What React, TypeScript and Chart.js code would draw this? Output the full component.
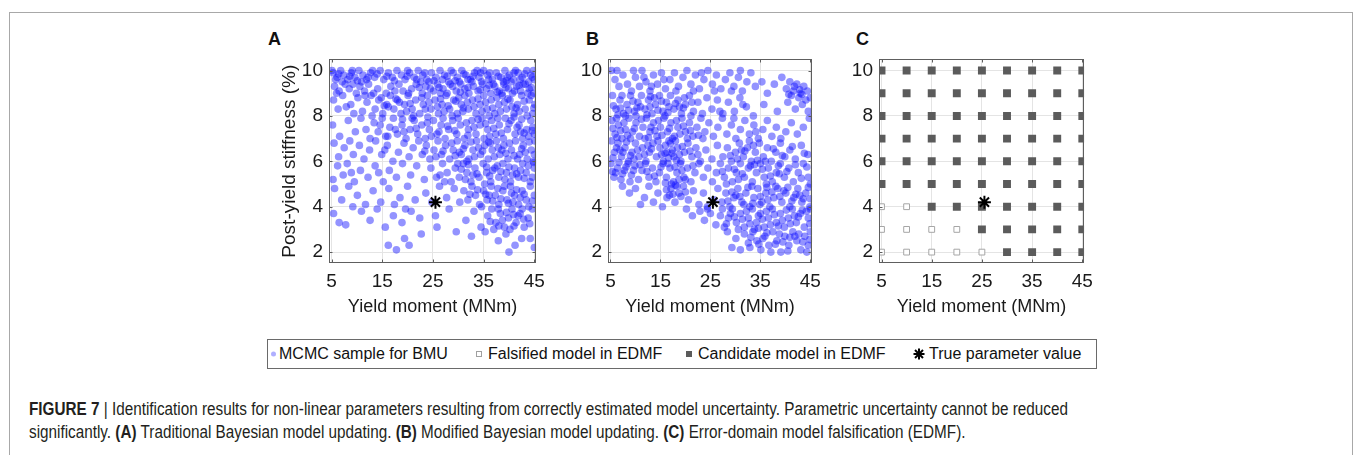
import React, { useEffect, useLayoutEffect, useRef } from 'react';
import { Chart, registerables } from 'chart.js';
Chart.register(...registerables);

// ---------- axes ----------
const xTicks = [5, 15, 25, 35, 45];
const yTicks = [2, 4, 6, 8, 10];
const xRange = [4.5, 45.35];
const yRange = [1.52, 10.49];
const xTitle = 'Yield moment (MNm)';
const yTitle = 'Post-yield stiffness (%)';
const trueParam: [number, number] = [25.5, 4.2];

// ---------- panel A: MCMC samples, traditional BMU ----------
const aBand10: [number, number][] = [[5.3,9.9],[6.1,9.7],[6.8,10.0],[7.4,9.8],[8.2,9.6],[8.9,9.9],[9.6,9.7],[10.4,10.0],[11.2,9.8],[11.9,9.6],[12.7,9.9],[13.5,9.7],[14.6,10.0],[15.3,9.6],[16.2,9.9],[17.0,9.7],[17.9,10.0],[18.8,9.8],[19.5,9.6],[20.4,9.9],[21.3,9.7],[22.1,10.0],[23.0,9.8],[23.8,9.6],[24.7,9.9],[25.6,9.7],[26.4,10.0],[27.3,9.8],[28.1,9.5],[29.0,9.9],[29.8,9.7],[30.7,10.0],[31.5,9.8],[32.4,9.6],[33.2,9.9],[34.1,9.7],[35.0,10.0],[35.8,9.8],[36.7,9.6],[37.5,9.9],[38.4,9.7],[39.2,10.0],[40.1,9.8],[40.9,9.6],[41.8,9.9],[42.6,9.7],[43.5,10.0],[44.3,9.8],[45.0,9.6],[5.8,9.6],[7.1,9.5],[9.1,10.0],[10.9,9.5],[13.1,10.0],[22.6,9.5],[26.9,9.6],[30.2,9.5],[33.7,10.0],[36.2,9.9],[38.9,9.5],[41.3,10.0],[43.9,9.5],[44.8,10.0],[5.1,10.0],[20.0,10.0],[24.2,9.5],[28.6,10.0],[31.9,9.6],[34.6,9.5],[39.7,9.7]];
const aBand9: [number, number][] = [[5.6,9.3],[6.5,9.1],[7.7,9.4],[8.5,9.2],[9.9,9.0],[10.6,9.3],[11.5,9.1],[12.3,9.4],[14.1,9.2],[15.8,9.0],[16.7,9.3],[18.3,9.4],[19.1,9.1],[20.8,9.2],[21.7,9.4],[22.9,9.0],[23.6,9.3],[25.1,9.1],[25.9,9.4],[27.0,9.2],[27.8,9.0],[28.9,9.3],[29.6,9.1],[30.5,9.4],[31.3,9.2],[32.1,9.0],[33.0,9.3],[33.9,9.1],[34.8,9.4],[35.6,9.2],[36.4,9.0],[37.2,9.3],[38.1,9.1],[39.0,9.4],[39.9,9.2],[40.7,9.0],[41.5,9.3],[42.3,9.1],[43.2,9.4],[44.0,9.2],[44.9,9.0],[6.0,9.0],[13.3,9.0],[17.5,9.1],[24.5,9.2],[28.4,9.4],[32.7,9.5],[36.9,9.4],[40.4,9.5],[43.7,9.0],[9.2,9.4],[20.2,9.0],[26.5,9.0],[38.6,9.0],[42.8,9.4]];
const aBand8: [number, number][] = [[5.4,8.7],[6.3,8.3],[7.2,8.9],[8.8,8.5],[10.2,8.8],[11.1,8.2],[12.0,8.6],[12.8,8.9],[13.6,8.3],[14.3,8.7],[15.1,8.1],[15.9,8.5],[16.6,8.9],[17.3,8.3],[18.0,8.7],[18.7,8.1],[19.4,8.5],[20.1,8.9],[20.9,8.3],[21.6,8.7],[22.4,8.1],[23.1,8.5],[23.9,8.9],[24.6,8.3],[25.4,8.7],[26.1,8.1],[26.8,8.5],[27.6,8.9],[28.3,8.3],[29.1,8.7],[29.8,8.1],[30.6,8.5],[31.3,8.9],[32.0,8.3],[32.8,8.7],[33.5,8.1],[34.3,8.5],[35.0,8.9],[35.7,8.3],[36.5,8.7],[37.2,8.1],[38.0,8.5],[38.7,8.9],[39.5,8.3],[40.2,8.7],[41.0,8.1],[41.7,8.5],[42.5,8.9],[43.2,8.3],[44.0,8.7],[44.7,8.1],[13.0,8.0],[16.2,8.4],[19.8,8.2],[22.8,8.8],[25.9,8.4],[28.8,8.0],[31.8,8.6],[34.7,8.2],[37.6,8.8],[40.6,8.4],[43.6,8.0],[45.1,8.5],[14.8,8.8],[18.4,8.6],[21.2,8.0],[24.2,8.6],[27.2,8.2],[30.1,8.8],[33.1,8.4],[36.1,8.0],[39.1,8.6],[42.0,8.2],[44.4,8.9],[9.4,8.1],[7.9,8.4],[11.6,8.9],[30.9,8.2],[35.4,8.6],[38.3,8.2]];
const aBand7: [number, number][] = [[5.2,7.6],[6.6,7.1],[8.3,7.8],[9.7,7.3],[10.8,7.9],[11.8,7.4],[12.6,7.0],[13.4,7.7],[14.2,7.3],[15.0,7.9],[15.7,7.1],[16.5,7.5],[17.2,7.9],[18.0,7.2],[18.9,7.6],[19.7,7.0],[20.5,7.4],[21.3,7.8],[22.0,7.2],[22.8,7.6],[23.5,7.0],[24.3,7.4],[25.1,7.8],[25.8,7.2],[26.6,7.6],[27.4,7.0],[28.1,7.4],[28.9,7.8],[29.7,7.2],[30.4,7.6],[31.2,7.0],[32.0,7.4],[32.7,7.8],[33.5,7.2],[34.3,7.6],[35.1,7.0],[35.8,7.4],[36.6,7.8],[37.4,7.2],[38.1,7.6],[38.9,7.0],[39.7,7.4],[40.4,7.8],[41.2,7.2],[42.0,7.6],[42.7,7.0],[43.5,7.4],[44.3,7.8],[45.0,7.2],[14.6,7.6],[17.6,7.4],[20.9,7.9],[23.9,7.7],[27.0,7.9],[30.0,7.9],[33.1,7.5],[36.2,7.1],[39.3,7.9],[42.3,7.3],[44.7,7.5],[16.1,7.1],[19.3,7.3],[26.2,7.3],[31.6,7.7],[37.8,7.9],[41.6,7.5],[24.7,7.1],[34.7,7.9],[43.9,7.1]];
const aBand6: [number, number][] = [[5.5,6.8],[6.4,6.2],[7.5,6.6],[8.6,6.9],[9.3,6.3],[10.5,6.7],[11.4,6.1],[12.5,6.5],[13.7,6.9],[14.9,6.3],[16.0,6.7],[17.1,6.0],[18.2,6.4],[19.3,6.8],[20.3,6.2],[21.1,6.6],[22.2,6.9],[22.9,6.3],[23.7,6.7],[24.4,6.1],[25.2,6.5],[26.0,6.9],[26.7,6.3],[27.5,6.7],[28.3,6.1],[29.0,6.5],[29.8,6.9],[30.6,6.3],[31.3,6.7],[32.1,6.1],[32.9,6.5],[33.6,6.9],[34.4,6.3],[35.2,6.7],[35.9,6.1],[36.7,6.5],[37.5,6.9],[38.2,6.3],[39.0,6.7],[39.8,6.1],[40.5,6.5],[41.3,6.9],[42.1,6.3],[42.8,6.7],[43.6,6.1],[44.4,6.5],[45.1,6.9],[28.7,6.8],[31.7,6.0],[34.0,6.6],[37.1,6.2],[40.1,6.8],[43.2,6.4],[44.8,6.0],[25.6,6.2],[30.2,6.4],[36.3,6.8],[41.7,6.1],[38.6,6.5],[15.5,6.5],[33.2,6.2]];
const aBand5: [number, number][] = [[5.3,5.2],[6.2,5.8],[7.3,5.4],[8.1,5.9],[9.5,5.1],[10.7,5.6],[12.2,5.3],[13.6,5.8],[15.2,5.1],[16.4,5.6],[17.8,5.3],[19.0,5.9],[20.6,5.4],[21.8,5.8],[23.3,5.2],[24.6,5.7],[25.7,5.3],[26.9,5.9],[27.8,5.5],[28.6,5.1],[29.4,5.7],[30.2,5.3],[31.0,5.9],[31.7,5.5],[32.5,5.1],[33.3,5.7],[34.1,5.3],[34.9,5.9],[35.6,5.5],[36.4,5.1],[37.2,5.7],[38.0,5.3],[38.8,5.9],[39.5,5.5],[40.3,5.1],[41.1,5.7],[41.9,5.3],[42.7,5.9],[43.4,5.5],[44.2,5.1],[45.0,5.7],[29.9,5.9],[32.9,5.4],[35.2,5.0],[37.7,5.8],[40.7,5.4],[43.8,5.8],[44.6,5.3],[31.4,5.2],[36.8,5.6],[39.2,5.2],[42.3,5.6],[8.9,5.5],[14.3,5.5]];
const aBand4: [number, number][] = [[5.6,4.8],[7.0,4.3],[8.4,4.9],[10.1,4.5],[11.7,4.1],[13.2,4.7],[14.7,4.2],[16.3,4.8],[18.5,4.4],[20.0,4.9],[21.5,4.3],[23.6,4.6],[26.3,4.9],[27.7,4.4],[29.2,4.8],[30.3,4.2],[31.1,4.7],[31.9,4.3],[32.7,4.9],[33.4,4.5],[34.2,4.1],[35.0,4.7],[35.7,4.3],[36.5,4.9],[37.3,4.5],[38.0,4.1],[38.8,4.7],[39.6,4.3],[40.3,4.9],[41.1,4.5],[41.9,4.1],[42.6,4.7],[43.4,4.3],[44.2,4.9],[45.0,4.5],[36.1,4.5],[39.1,4.9],[40.8,4.2],[42.2,4.4],[43.9,4.0],[37.8,4.8],[34.6,4.0],[9.2,4.0],[17.4,4.1],[24.8,4.2]];
const aBand3: [number, number][] = [[5.4,3.7],[7.8,3.2],[10.9,3.8],[12.6,3.4],[14.0,3.9],[15.6,3.1],[17.2,3.6],[18.9,3.3],[20.7,3.8],[22.4,3.5],[25.5,3.6],[25.8,3.1],[28.2,3.9],[31.5,3.4],[33.1,3.8],[34.5,3.1],[35.8,3.6],[36.6,3.9],[37.4,3.3],[38.3,3.7],[39.1,3.1],[39.9,3.5],[40.6,3.9],[41.4,3.3],[42.2,3.7],[43.0,3.1],[43.8,3.5],[44.6,3.9],[40.2,3.0],[41.8,3.6],[38.7,3.4],[37.0,3.0],[42.6,3.9],[6.5,3.3],[19.6,3.9]];
const aBand2: [number, number][] = [[16.2,2.3],[17.8,2.1],[19.4,2.6],[20.3,2.3],[22.7,2.8],[32.6,2.7],[35.3,2.9],[37.9,2.5],[39.4,2.8],[40.0,2.0],[41.2,2.3],[42.5,2.6],[44.2,2.6],[45.0,2.2],[29.6,2.9]];
const aDense: [number, number][] = [[6.4,9.85],[8.6,9.75],[10.1,9.55],[12.2,9.7],[14.0,9.85],[15.9,9.75],[17.4,9.55],[19.9,9.75],[21.8,9.6],[23.4,9.9],[25.2,9.55],[27.8,9.75],[29.4,9.55],[31.1,9.85],[32.9,9.75],[34.4,9.9],[36.0,9.6],[37.9,9.75],[39.5,9.55],[41.0,9.9],[42.2,9.6],[43.1,9.85],[44.6,9.7],[30.4,9.05],[31.9,9.25],[34.3,9.15],[36.1,9.35],[37.7,9.05],[39.4,9.25],[41.1,9.1],[42.0,9.35],[44.4,9.25],[26.2,9.25],[22.3,9.25],[28.0,8.45],[29.5,8.65],[31.0,8.35],[33.9,8.75],[36.8,8.35],[39.8,8.75],[41.4,8.35],[43.0,8.65],[44.9,8.35],[23.5,8.3],[26.5,8.75],[20.5,8.55],[17.7,8.75],[15.4,8.45],[27.9,7.55],[29.3,7.35],[31.9,7.15],[33.9,7.85],[35.4,7.65],[37.0,7.45],[38.5,7.25],[40.0,7.65],[41.0,7.95],[42.5,7.85],[43.0,7.25],[44.6,7.35],[21.7,7.45],[19.0,7.85],[24.0,7.95],[27.0,6.45],[29.4,6.25],[31.0,6.55],[32.5,6.85],[34.8,6.45],[36.0,6.85],[37.9,6.6],[39.4,6.35],[41.0,6.25],[42.5,6.55],[44.0,6.85],[45.0,6.3],[23.4,6.45],[30.6,5.65],[32.0,5.85],[33.7,5.45],[35.6,5.75],[36.2,5.35],[38.4,5.55],[40.0,5.75],[41.5,5.45],[43.0,5.25],[44.9,5.95],[26.4,5.4],[27.3,5.1],[32.3,4.55],[33.8,4.75],[35.4,4.55],[36.8,4.25],[38.4,4.35],[39.9,4.15],[41.5,4.75],[43.0,4.55],[44.6,4.25],[40.5,4.6],[37.9,3.9],[39.5,3.75],[40.9,3.65],[42.9,3.45],[44.1,3.25],[41.0,3.15],[38.0,3.15],[36.3,3.35]];

// ---------- panel B: MCMC samples, modified BMU ----------
const bBand9: [number, number][] = [[5.2,10.0],[5.9,9.6],[6.7,9.3],[7.5,9.8],[8.4,9.4],[9.2,9.1],[10.0,9.7],[10.8,9.3],[11.3,10.0],[12.1,9.5],[12.9,9.1],[13.6,9.8],[14.4,9.4],[15.2,9.9],[16.0,9.2],[16.9,9.6],[17.8,9.9],[18.6,9.3],[19.5,9.7],[20.3,10.0],[21.1,9.4],[22.0,9.8],[22.8,9.2],[23.7,9.6],[24.5,10.0],[25.4,9.4],[26.2,9.8],[27.1,9.2],[28.0,9.6],[28.9,9.9],[29.7,9.3],[30.6,9.7],[31.4,9.1],[32.3,9.5],[33.1,9.9],[34.0,9.3],[35.3,9.5],[36.4,9.0],[37.8,9.4],[39.3,9.7],[40.2,9.2],[40.9,9.5],[41.6,9.1],[42.3,9.4],[43.0,9.0],[43.7,9.3],[44.4,9.1],[41.2,8.9],[42.7,8.8],[44.1,8.7],[6.3,10.0],[9.6,10.0],[13.2,9.3],[18.1,9.1],[21.6,9.1],[25.8,9.1],[29.2,9.1],[11.7,9.7],[15.7,9.6],[23.2,9.9],[31.0,10.0]];
const bBand8: [number, number][] = [[5.4,8.9],[6.1,8.3],[6.9,8.7],[7.6,8.1],[8.3,8.5],[9.0,8.9],[9.8,8.2],[10.5,8.6],[11.2,8.9],[11.9,8.3],[12.6,8.7],[13.3,8.1],[14.0,8.5],[14.8,8.9],[15.5,8.2],[16.2,8.6],[17.0,8.9],[17.7,8.3],[18.5,8.7],[19.2,8.1],[20.0,8.5],[20.8,8.9],[21.6,8.2],[22.5,8.6],[23.4,8.1],[24.3,8.8],[25.3,8.3],[26.4,8.7],[27.5,8.1],[28.6,8.6],[29.8,8.2],[30.9,8.8],[32.2,8.4],[33.6,8.0],[35.7,8.5],[38.4,8.2],[40.5,8.6],[42.0,8.3],[43.4,8.5],[44.6,8.2],[45.0,8.8],[7.3,8.9],[10.1,8.0],[12.9,8.4],[15.9,8.0],[18.8,8.4],[21.1,8.0],[8.0,8.0],[13.8,8.8],[16.7,8.4],[11.0,8.4],[19.8,8.8],[26.9,8.2],[31.5,8.5]];
const bBand7: [number, number][] = [[5.3,7.8],[5.9,7.2],[6.6,7.6],[7.3,7.0],[8.0,7.4],[8.7,7.9],[9.4,7.3],[10.1,7.7],[10.8,7.1],[11.5,7.5],[12.2,7.9],[12.9,7.3],[13.6,7.7],[14.3,7.1],[15.0,7.5],[15.7,7.9],[16.4,7.3],[17.1,7.7],[17.8,7.1],[18.5,7.5],[19.3,7.9],[20.0,7.3],[20.8,7.7],[21.5,7.1],[22.3,7.5],[23.1,7.9],[23.9,7.3],[24.7,7.7],[25.6,7.1],[26.5,7.5],[27.4,7.9],[28.3,7.2],[29.2,7.6],[30.1,7.0],[31.0,7.4],[31.9,7.8],[32.8,7.2],[33.7,7.6],[34.6,7.0],[35.5,7.4],[36.4,7.8],[37.3,7.1],[38.2,7.5],[39.1,7.0],[40.1,7.3],[41.2,7.7],[42.4,7.2],[43.6,7.5],[44.8,7.9],[6.2,7.9],[9.0,7.0],[11.9,7.0],[14.6,7.8],[17.4,7.0],[20.4,7.0],[7.7,7.7],[13.1,7.5],[18.9,7.2],[23.5,7.0],[29.7,7.9],[34.1,7.3]];
const bBand6: [number, number][] = [[5.2,6.9],[5.8,6.4],[6.5,6.8],[7.2,6.2],[7.9,6.6],[8.6,6.0],[9.3,6.4],[10.0,6.8],[10.7,6.2],[11.4,6.6],[12.1,6.0],[12.8,6.4],[13.5,6.8],[14.2,6.2],[14.9,6.6],[15.6,6.0],[16.3,6.4],[17.0,6.8],[17.7,6.2],[18.4,6.6],[19.1,6.0],[19.8,6.4],[20.5,6.8],[21.3,6.2],[22.1,6.6],[23.0,6.0],[24.1,6.5],[25.3,6.1],[26.4,6.7],[27.5,6.2],[28.4,6.6],[29.2,6.0],[30.0,6.4],[30.8,6.8],[31.6,6.2],[32.4,6.6],[33.2,6.0],[34.0,6.4],[34.8,6.8],[35.6,6.2],[36.4,6.6],[37.2,6.0],[38.1,6.4],[39.0,6.8],[39.9,6.2],[40.9,6.5],[42.0,6.1],[43.2,6.7],[44.5,6.3],[16.7,6.9],[17.4,6.5],[18.0,6.9],[16.0,6.7],[18.8,6.3],[15.2,6.3],[6.9,6.5],[9.7,6.1],[12.5,6.7],[31.2,6.5],[33.6,6.7],[36.0,6.0],[30.4,6.1]];
const bBand5: [number, number][] = [[5.1,5.9],[5.7,5.3],[6.4,5.7],[7.1,5.2],[7.8,5.6],[8.5,5.9],[9.2,5.4],[9.9,5.8],[10.6,5.2],[11.3,5.6],[12.0,5.9],[12.7,5.3],[13.4,5.7],[14.1,5.1],[14.8,5.5],[15.5,5.9],[16.2,5.3],[16.9,5.7],[17.6,5.1],[18.3,5.5],[19.0,5.9],[19.7,5.3],[20.4,5.7],[21.1,5.1],[21.9,5.5],[22.7,5.9],[23.6,5.3],[24.5,5.7],[25.4,5.1],[26.2,5.5],[27.0,5.9],[27.8,5.3],[28.6,5.7],[29.4,5.1],[30.2,5.5],[31.0,5.9],[31.8,5.3],[32.6,5.7],[33.4,5.1],[34.2,5.5],[35.0,5.9],[35.8,5.3],[36.6,5.7],[37.4,5.1],[38.2,5.5],[39.0,5.9],[39.8,5.3],[40.7,5.7],[41.6,5.1],[42.6,5.5],[43.6,5.9],[44.6,5.3],[45.0,5.0],[17.2,5.0],[18.7,5.2],[16.5,5.9],[28.2,5.0],[30.6,5.2],[33.0,5.8],[36.2,5.0],[38.6,5.8],[6.0,5.5],[8.9,5.1]];
const bBand4: [number, number][] = [[7.4,4.9],[8.8,4.6],[10.0,4.8],[11.0,4.1],[11.8,4.4],[12.7,4.9],[13.6,4.2],[14.5,4.6],[15.4,4.0],[16.3,4.4],[17.1,4.8],[17.9,4.2],[18.7,4.6],[19.6,4.9],[20.6,4.3],[21.6,4.7],[22.7,4.1],[23.6,4.6],[24.4,4.0],[25.7,4.3],[26.5,4.8],[27.3,4.2],[28.1,4.6],[28.9,4.0],[29.7,4.4],[30.5,4.8],[31.3,4.2],[32.1,4.6],[32.9,4.0],[33.7,4.4],[34.5,4.8],[35.3,4.2],[36.1,4.6],[36.9,4.0],[37.7,4.4],[38.5,4.8],[39.3,4.2],[40.1,4.6],[40.9,4.0],[41.7,4.4],[42.5,4.8],[43.3,4.2],[44.1,4.6],[44.9,4.0],[30.1,4.5],[33.3,4.9],[36.5,4.3],[39.7,4.7],[42.9,4.5],[34.9,4.1],[38.1,4.9],[31.7,4.1],[16.8,4.5],[18.3,4.9]];
const bBand3: [number, number][] = [[20.2,3.9],[21.4,3.6],[22.9,3.8],[23.8,3.4],[25.0,3.7],[26.1,3.2],[27.0,3.6],[27.8,3.1],[28.6,3.5],[29.4,3.9],[30.2,3.3],[31.0,3.7],[31.8,3.1],[32.6,3.5],[33.4,3.9],[34.2,3.3],[35.0,3.7],[35.8,3.1],[36.6,3.5],[37.4,3.9],[38.2,3.3],[39.0,3.7],[39.8,3.1],[40.6,3.5],[41.4,3.9],[42.2,3.3],[43.0,3.7],[43.8,3.1],[44.6,3.5],[45.0,3.9],[32.2,3.8],[34.6,3.6],[37.0,3.2],[39.4,3.4],[41.8,3.6],[44.2,3.8],[30.6,3.0],[36.2,3.8],[33.8,3.0],[29.0,3.7],[27.4,3.9],[24.4,3.9]];
const bBand2: [number, number][] = [[28.4,2.9],[29.3,2.2],[30.1,2.6],[31.0,2.1],[31.8,2.8],[32.6,2.4],[33.5,2.9],[34.3,2.5],[35.1,2.1],[35.9,2.7],[36.7,2.3],[37.5,2.9],[38.3,2.5],[39.1,2.0],[39.9,2.7],[40.7,2.3],[41.5,2.9],[42.3,2.5],[43.1,2.1],[43.9,2.7],[44.6,2.3],[45.0,2.9],[35.5,2.6],[38.8,2.8],[41.9,2.7],[44.3,2.0],[37.1,2.0],[32.9,2.2]];
const bDense: [number, number][] = [[5.6,8.45],[6.5,8.05],[7.0,8.35],[8.6,8.25],[9.5,8.65],[10.3,8.35],[12.3,8.05],[13.0,8.85],[14.5,8.25],[15.2,8.65],[16.5,8.15],[18.0,8.55],[19.6,8.35],[21.3,8.6],[5.5,7.45],[6.3,7.05],[7.0,7.35],[8.4,7.15],[9.8,7.45],[11.2,7.85],[12.6,7.05],[13.9,7.35],[15.3,7.15],[16.8,7.45],[18.2,7.8],[19.6,7.55],[21.0,7.35],[22.6,7.15],[5.5,6.15],[6.2,6.6],[7.5,6.4],[8.2,6.85],[9.0,6.25],[10.4,6.5],[11.8,6.3],[13.2,6.55],[14.5,6.9],[15.9,6.35],[16.6,6.15],[17.3,6.35],[18.2,6.05],[19.4,6.65],[20.9,6.45],[22.5,6.3],[5.4,5.55],[6.7,5.95],[7.4,5.45],[8.1,5.75],[9.6,5.6],[10.9,5.85],[12.3,5.55],[13.8,5.35],[15.1,5.75],[16.0,5.05],[17.9,5.75],[19.3,5.6],[20.0,5.2],[21.5,5.8],[17.5,4.55],[18.0,4.95],[19.1,4.45],[16.2,4.75],[20.0,4.65],[29.0,6.25],[31.9,6.45],[34.4,6.05],[37.6,6.55],[39.4,6.25],[41.4,6.65],[43.8,6.35],[32.8,6.9],[29.8,5.65],[31.4,5.45],[33.8,5.85],[35.4,5.65],[37.0,5.35],[38.8,5.45],[40.3,5.55],[42.0,5.85],[43.2,5.25],[44.3,5.75],[27.4,5.55],[28.5,4.25],[29.3,4.65],[30.9,4.45],[32.5,4.85],[33.5,4.15],[35.0,4.45],[36.3,4.85],[37.3,4.65],[38.9,4.45],[40.5,4.85],[41.3,4.25],[42.1,4.55],[43.6,4.35],[44.6,4.85],[45.0,4.35],[29.8,3.55],[31.4,3.45],[32.9,3.25],[34.6,3.05],[35.4,3.45],[37.8,3.65],[38.6,3.15],[40.2,3.85],[41.0,3.25],[42.6,3.55],[43.4,3.85],[44.9,3.25],[28.2,3.25],[33.1,2.65],[34.7,2.35],[36.3,2.85],[38.0,2.35],[39.5,2.45],[40.9,2.65],[42.7,2.8],[43.5,2.45],[44.9,2.55],[40.5,2.05],[41.8,9.3],[42.9,9.15],[43.3,8.95],[40.7,8.95]];

// ---------- panel C: EDMF grid ----------
const gridMoments = [5, 10, 15, 20, 25, 30, 35, 40, 45];
const gridStiffness = [2, 3, 4, 5, 6, 7, 8, 9, 10];
const falsified: [number, number][] = [[5,2],[10,2],[15,2],[20,2],[25,2],[5,3],[10,3],[15,3],[20,3],[5,4],[10,4]];

// ---------- legend / caption ----------
const legendLabels = ['MCMC sample for BMU', 'Falsified model in EDMF', 'Candidate model in EDMF', 'True parameter value'];
const captionWidth = 1039;

const FONT = "'Liberation Sans', Arial, Helvetica, sans-serif";
const MCMC_COLOR = 'rgba(15,15,255,0.45)';

const toXY = (arr: [number, number][]) => arr.map(([x, y]) => ({ x, y }));

const framePlugin = {
  id: 'frame',
  afterDatasetsDraw(chart: any) {
    const { ctx, chartArea: a, scales } = chart;
    ctx.save();
    ctx.strokeStyle = '#5e5e5e';
    ctx.lineWidth = 1;
    const l = Math.round(a.left) + 0.5, t = Math.round(a.top) + 0.5;
    const r = Math.round(a.right) - 0.5, b = Math.round(a.bottom) - 0.5;
    ctx.strokeRect(l, t, r - l, b - t);
    ctx.beginPath();
    xTicks.forEach((v) => {
      const px = Math.round(scales.x.getPixelForValue(v)) + 0.5;
      ctx.moveTo(px, b); ctx.lineTo(px, b - 3);
      ctx.moveTo(px, t); ctx.lineTo(px, t + 3);
    });
    yTicks.forEach((v) => {
      const py = Math.round(scales.y.getPixelForValue(v)) + 0.5;
      ctx.moveTo(l, py); ctx.lineTo(l + 3, py);
      ctx.moveTo(r, py); ctx.lineTo(r - 3, py);
    });
    ctx.stroke();
    ctx.restore();
  },
};

const starDataset = {
  label: legendLabels[3],
  data: [{ x: trueParam[0], y: trueParam[1] }],
  pointStyle: 'star',
  pointRadius: 6.5,
  borderColor: '#000',
  backgroundColor: '#000',
  borderWidth: 2,
};

type PanelProps = { left: number; top: number; width: number; height: number; axisW: number; showYTitle: boolean; datasets: any[] };

function Panel({ left, top, width, height, axisW, showYTitle, datasets }: PanelProps) {
  const ref = useRef<HTMLCanvasElement>(null);
  useEffect(() => {
    const tickFont = { family: FONT, size: 19 };
    const chart = new Chart(ref.current as HTMLCanvasElement, {
      type: 'scatter',
      data: { datasets },
      options: {
        animation: false,
        responsive: false,
        maintainAspectRatio: false,
        devicePixelRatio: 1,
        layout: { padding: { top: 14, right: 14, left: 0, bottom: 0 } },
        plugins: { legend: { display: false }, tooltip: { enabled: false } },
        scales: {
          x: {
            type: 'linear', min: xRange[0], max: xRange[1],
            afterBuildTicks: (s: any) => { s.ticks = xTicks.map((v) => ({ value: v })); },
            afterFit: (s: any) => { s.height = 55; },
            grid: { color: '#e4e4e4', drawTicks: false },
            border: { display: false },
            ticks: { padding: 7, font: tickFont, color: '#1a1a1a', autoSkip: false, maxRotation: 0 },
            title: { display: true, text: xTitle, font: { family: FONT, size: 18 }, color: '#1a1a1a', padding: { top: 0, bottom: 0 } },
          },
          y: {
            type: 'linear', min: yRange[0], max: yRange[1],
            afterBuildTicks: (s: any) => { s.ticks = yTicks.map((v) => ({ value: v })); },
            afterFit: (s: any) => { s.width = axisW; },
            grid: { color: '#e4e4e4', drawTicks: false },
            border: { display: false },
            ticks: { padding: 6, font: tickFont, color: '#1a1a1a', autoSkip: false },
            title: { display: showYTitle, text: yTitle, font: { family: FONT, size: 19 }, color: '#1a1a1a', padding: { top: 17, bottom: 0 } },
          },
        },
      } as any,
      plugins: [framePlugin],
    });
    return () => chart.destroy();
  }, []);
  return <canvas ref={ref} width={width} height={height} style={{ position: 'absolute', left, top, width, height }} />;
}

function mcmcDataset(bands: [number, number][][]) {
  return {
    label: legendLabels[0],
    data: toXY(bands.flat()),
    pointStyle: 'circle',
    pointRadius: 3.8,
    backgroundColor: MCMC_COLOR,
    borderWidth: 0,
  };
}

const candidates: [number, number][] = [];
gridStiffness.forEach((y) => gridMoments.forEach((x) => {
  if (!falsified.some(([fx, fy]) => fx === x && fy === y)) candidates.push([x, y]);
}));

const panelA = [starDataset, mcmcDataset([aBand10, aBand9, aBand8, aBand7, aBand6, aBand5, aBand4, aBand3, aBand2, aDense])];
const panelB = [starDataset, mcmcDataset([bBand9, bBand8, bBand7, bBand6, bBand5, bBand4, bBand3, bBand2, bDense])];
const panelC = [
  starDataset,
  { label: legendLabels[2], data: toXY(candidates), pointStyle: 'rect', pointRadius: 5.6, backgroundColor: '#5b5b5b', borderWidth: 0 },
  { label: legendLabels[1], data: toXY(falsified), pointStyle: 'rect', pointRadius: 4.1, backgroundColor: '#ffffff', borderColor: '#a6a6a6', borderWidth: 1 },
];

const panelLetter = (ch: string, left: number) => (
  <div style={{ position: 'absolute', left, top: 30, fontFamily: FONT, fontWeight: 'bold', fontSize: 18, lineHeight: '18px', color: '#111' }}>{ch}</div>
);

const legendText: React.CSSProperties = { position: 'absolute', top: 4, fontFamily: FONT, fontSize: 16, lineHeight: '20px', color: '#111', whiteSpace: 'nowrap' };

function Caption() {
  const boxRef = useRef<HTMLDivElement>(null);
  const lineRef = useRef<HTMLSpanElement>(null);
  useLayoutEffect(() => {
    const w = lineRef.current ? lineRef.current.getBoundingClientRect().width : captionWidth;
    if (boxRef.current && w > 0) boxRef.current.style.transform = `scaleX(${captionWidth / w})`;
  }, []);
  return (
    <div ref={boxRef} style={{ position: 'absolute', left: 29, top: 398, transformOrigin: '0 0', fontFamily: FONT, fontSize: 17.5, lineHeight: '23px', color: '#231f20', whiteSpace: 'nowrap' }}>
      <span ref={lineRef}><b>FIGURE 7</b> | Identification results for non-linear parameters resulting from correctly estimated model uncertainty. Parametric uncertainty cannot be reduced</span><br />
      <span>significantly. <b>(A)</b> Traditional Bayesian model updating. <b>(B)</b> Modified Bayesian model updating. <b>(C)</b> Error-domain model falsification (EDMF).</span>
    </div>
  );
}

export default function App() {
  useEffect(() => { document.body.style.margin = '0'; }, []);
  return (
    <div style={{ position: 'absolute', left: 0, top: 0, width: 1357, height: 455, overflow: 'hidden', background: '#fff' }}>
      <div style={{ position: 'absolute', left: 9, top: 12, width: 1344, height: 460, border: '1px solid #a8a8a8', boxSizing: 'border-box' }} />
      {panelLetter('A', 268)}
      {panelLetter('B', 586)}
      {panelLetter('C', 856)}
      <Panel left={261} top={42} width={291} height={276} axisW={68} showYTitle={true} datasets={panelA} />
      <Panel left={568} top={42} width={260} height={276} axisW={40} showYTitle={false} datasets={panelB} />
      <Panel left={839} top={42} width={261} height={276} axisW={40} showYTitle={false} datasets={panelC} />
      <div style={{ position: 'absolute', left: 267, top: 339, width: 830, height: 30, border: '1px solid #6a6a6a', boxSizing: 'border-box' }}>
        <svg style={{ position: 'absolute', left: 2, top: 9 }} width={8} height={10}><circle cx={3.5} cy={5} r={2.5} fill="rgba(110,110,255,0.55)" /></svg>
        <span style={{ ...legendText, left: 11 }}>{legendLabels[0]}</span>
        <svg style={{ position: 'absolute', left: 207, top: 9 }} width={10} height={10}><rect x={1.5} y={2.5} width={5} height={5} fill="#fff" stroke="#a0a0a0" strokeWidth={1} /></svg>
        <span style={{ ...legendText, left: 220 }}>{legendLabels[1]}</span>
        <svg style={{ position: 'absolute', left: 417, top: 9 }} width={10} height={10}><rect x={1} y={2} width={6} height={6} fill="#5b5b5b" /></svg>
        <span style={{ ...legendText, left: 430 }}>{legendLabels[2]}</span>
        <svg style={{ position: 'absolute', left: 644, top: 7 }} width={14} height={14}>
          <g stroke="#000" strokeWidth={2}>
            <line x1={7} y1={1.5} x2={7} y2={12.5} />
            <line x1={1.5} y1={7} x2={12.5} y2={7} />
            <line x1={3} y1={3} x2={11} y2={11} />
            <line x1={11} y1={3} x2={3} y2={11} />
          </g>
        </svg>
        <span style={{ ...legendText, left: 661 }}>{legendLabels[3]}</span>
      </div>
      <Caption />
    </div>
  );
}
